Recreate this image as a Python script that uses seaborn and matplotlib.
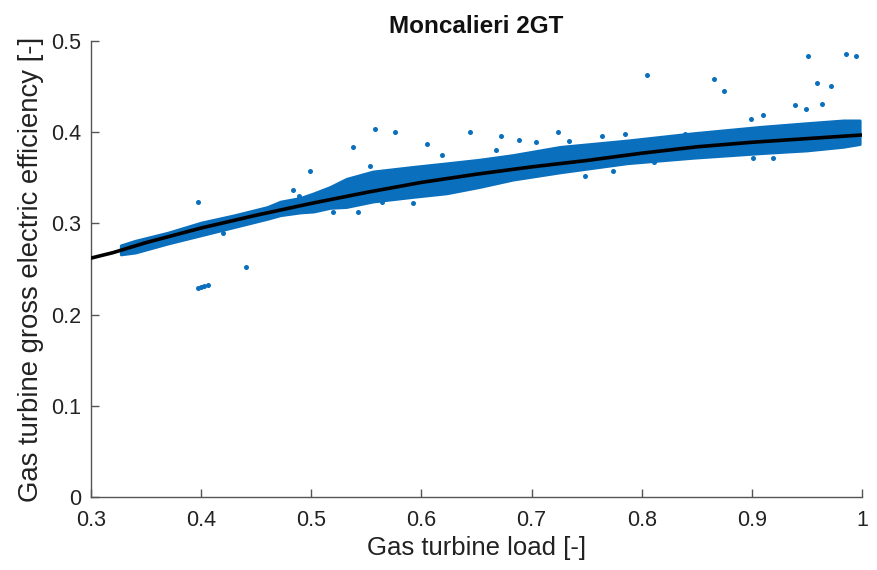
import numpy as np
import pandas as pd
import matplotlib
matplotlib.use("Agg")
import matplotlib.pyplot as plt
import seaborn as sns

# Fitted efficiency curve
curve_load = [0.30, 0.32, 0.35, 0.40, 0.45, 0.50, 0.55, 0.60, 0.65, 0.70, 0.75, 0.80, 0.85, 0.90, 0.95, 1.00]
curve_eff = [0.262, 0.268, 0.279, 0.295, 0.309, 0.322, 0.334, 0.345, 0.354, 0.362, 0.369, 0.377, 0.384,
             0.389, 0.393, 0.397]

band_load = [0.327, 0.34, 0.37, 0.40, 0.43, 0.46, 0.472, 0.49, 0.502, 0.517, 0.532, 0.556, 0.592, 0.623,
             0.653, 0.683, 0.726, 0.787, 0.847, 0.908, 0.95, 0.983, 0.998]
band_low = [0.266, 0.268, 0.278, 0.287, 0.296, 0.305, 0.309, 0.312, 0.313, 0.317, 0.318, 0.324, 0.329, 0.333,
            0.340, 0.348, 0.356, 0.366, 0.372, 0.377, 0.380, 0.384, 0.387]
band_high = [0.276, 0.281, 0.290, 0.301, 0.309, 0.318, 0.324, 0.328, 0.333, 0.340, 0.349, 0.357, 0.362, 0.366,
             0.370, 0.375, 0.384, 0.391, 0.399, 0.406, 0.410, 0.413, 0.413]

# Scattered outlier points
out_load = [0.397, 0.400, 0.403, 0.406, 0.441, 0.397, 0.420, 0.483, 0.489, 0.499, 0.520, 0.538, 0.542,
            0.553, 0.558, 0.564, 0.576, 0.592, 0.605, 0.619, 0.644, 0.655, 0.668, 0.672, 0.689, 0.704,
            0.724, 0.734, 0.749, 0.764, 0.774, 0.785, 0.805, 0.811, 0.839, 0.866, 0.875, 0.899, 0.901,
            0.910, 0.919, 0.939, 0.949, 0.951, 0.959, 0.964, 0.972, 0.986, 0.995]
out_eff = [0.229, 0.230, 0.231, 0.232, 0.252, 0.324, 0.290, 0.337, 0.330, 0.358, 0.312, 0.384, 0.312,
           0.363, 0.404, 0.323, 0.400, 0.322, 0.387, 0.375, 0.400, 0.343, 0.380, 0.396, 0.392, 0.389,
           0.400, 0.390, 0.352, 0.396, 0.357, 0.398, 0.463, 0.367, 0.398, 0.458, 0.445, 0.414, 0.372,
           0.419, 0.372, 0.430, 0.426, 0.484, 0.454, 0.431, 0.451, 0.486, 0.484]

x_ticks = [0.3, 0.4, 0.5, 0.6, 0.7, 0.8, 0.9, 1.0]
x_tick_labels = ["0.3", "0.4", "0.5", "0.6", "0.7", "0.8", "0.9", "1"]
y_ticks = [0, 0.1, 0.2, 0.3, 0.4, 0.5]
y_tick_labels = ["0", "0.1", "0.2", "0.3", "0.4", "0.5"]

sns.set_theme(style="white")
plt.rcParams['font.family'] = ['Liberation Sans', 'DejaVu Sans']

blue = "#0a6fbd"
fig = plt.figure(figsize=(8.77, 5.70), dpi=100)
ax = fig.add_axes([0.1038, 0.128, 0.879, 0.8])

ax.fill_between(band_load, band_low, band_high, color=blue, linewidth=2.0, edgecolor=blue, zorder=2)
out_df = pd.DataFrame({"load": out_load, "eff": out_eff})
sns.scatterplot(data=out_df, x="load", y="eff", ax=ax, color=blue, s=13, linewidth=0, zorder=3)
curve_df = pd.DataFrame({"load": curve_load, "eff": curve_eff})
sns.lineplot(data=curve_df, x="load", y="eff", ax=ax, color="black", linewidth=2.6, zorder=4)

ax.set_xlim(0.3, 1.0)
ax.set_ylim(0, 0.5)
ax.set_xticks(x_ticks)
ax.set_xticklabels(x_tick_labels)
ax.set_yticks(y_ticks)
ax.set_yticklabels(y_tick_labels)
ax.tick_params(direction="in", length=6, width=1, colors="#555555", labelcolor="#222222",
               labelsize=15.5, left=True, bottom=True)
ax.tick_params(axis="x", pad=9)
ax.tick_params(axis="y", pad=7)
for s in ["top", "right"]:
    ax.spines[s].set_visible(False)
for s in ["left", "bottom"]:
    ax.spines[s].set_color("#555555")
    ax.spines[s].set_linewidth(1.0)

ax.set_xlabel("Gas turbine load [-]", fontsize=18.5, color="#222222", labelpad=4)
ax.set_ylabel("Gas turbine gross electric efficiency [-]", fontsize=19.8, color="#222222", labelpad=5)
ax.set_title("Moncalieri 2GT", fontsize=17.5, fontweight="bold", color="#111111", pad=6)

fig.savefig("out.png", dpi=100)
